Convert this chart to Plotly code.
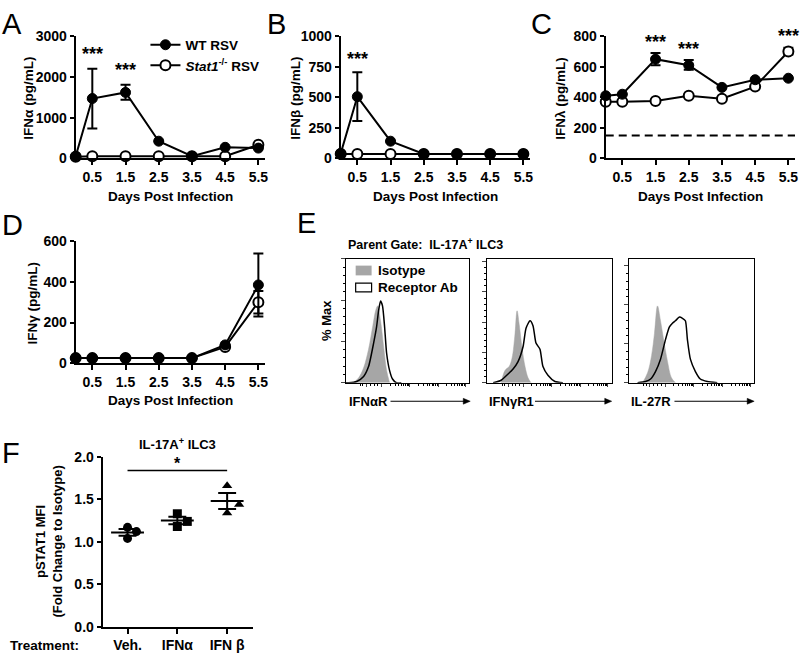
import math
import plotly.graph_objects as go

# ---------------- DATA ----------------
days = [0, 0.5, 1.5, 2.5, 3.5, 4.5, 5.5]
day_ticks = [0.5, 1.5, 2.5, 3.5, 4.5, 5.5]

ifna_wt = [50, 1470, 1620, 420, 50, 270, 250]
ifna_wt_up = [0, 730, 190, 0, 0, 0, 0]
ifna_wt_dn = [0, 740, 180, 0, 0, 0, 0]
ifna_ko = [40, 50, 50, 50, 50, 50, 330]

ifnb_wt = [40, 505, 140, 35, 35, 35, 35]
ifnb_wt_up = [0, 200, 0, 0, 0, 0, 0]
ifnb_wt_dn = [0, 200, 0, 0, 0, 0, 0]
ifnb_ko = [35, 35, 35, 35, 35, 35, 35]

ifnl_wt = [410, 420, 650, 610, 465, 515, 525]
ifnl_wt_up = [0, 0, 40, 35, 0, 0, 0]
ifnl_wt_dn = [0, 0, 40, 30, 0, 0, 0]
ifnl_ko = [370, 370, 375, 410, 390, 470, 700]
ifnl_ko_up = [0, 0, 0, 0, 0, 0, 25]
ifnl_ko_dn = [0, 0, 0, 0, 0, 0, 20]
ifnl_limit = 150

ifng_wt = [25, 25, 25, 25, 25, 90, 385]
ifng_wt_up = [0, 0, 0, 0, 0, 0, 155]
ifng_wt_dn = [0, 0, 0, 0, 0, 0, 155]
ifng_ko = [25, 25, 25, 25, 25, 80, 300]
ifng_ko_up = [0, 0, 0, 0, 0, 0, 55]
ifng_ko_dn = [0, 0, 0, 0, 0, 0, 55]

stars_a = [(0.5, 2570), (1.5, 2180)]
stars_b = [(0.5, 816)]
stars_c = [(1.5, 762), (2.5, 717), (5.5, 800)]

# Flow histograms (x = fraction of axis, y = % of max)
h1_iso_x = [0.065, 0.105, 0.145, 0.185, 0.218, 0.242, 0.258, 0.282, 0.306, 0.331, 0.355]
h1_iso_y = [0, 4, 12, 27, 45, 58, 62, 50, 30, 10, 0]
h1_rec_x = [0.0, 0.024, 0.089, 0.145, 0.185, 0.226, 0.25, 0.266, 0.282, 0.298, 0.315, 0.331, 0.355, 0.379, 0.411, 0.45]
h1_rec_y = [0, 0, 1, 5, 13, 32, 45, 58, 66, 62, 45, 24, 10, 3, 0, 0]

h2_iso_x = [0.112, 0.144, 0.176, 0.2, 0.224, 0.24, 0.256, 0.28, 0.304, 0.328, 0.352]
h2_iso_y = [0, 10, 13, 20, 40, 58, 48, 28, 13, 4, 0]
h2_rec_x = [0.048, 0.112, 0.168, 0.208, 0.248, 0.288, 0.312, 0.344, 0.368, 0.392, 0.424, 0.448, 0.488, 0.544, 0.608]
h2_rec_y = [0, 2, 7, 11, 17, 29, 44, 50, 46, 32, 27, 13, 6, 1, 0]

h3_iso_x = [0.111, 0.151, 0.183, 0.206, 0.23, 0.254, 0.278, 0.31, 0.341, 0.373]
h3_iso_y = [0, 8, 22, 40, 62, 50, 35, 17, 4, 0]
h3_rec_x = [0.071, 0.135, 0.175, 0.214, 0.254, 0.294, 0.325, 0.349, 0.373, 0.405, 0.429, 0.452, 0.468, 0.492, 0.532, 0.571, 0.627, 0.706]
h3_rec_y = [0, 1, 3, 9, 19, 35, 45, 48, 50, 53, 52, 50, 35, 19, 9, 3, 1, 0]

# Panel F
f_groups = ["Veh.", "IFNα", "IFN β"]
f_veh = [1.17, 1.04, 1.12]
f_ifna = [1.33, 1.18, 1.24]
f_ifnb = [1.66, 1.34, 1.44]
f_mean = [1.11, 1.25, 1.48]
f_sem = [0.04, 0.045, 0.095]

# ---------------- STYLE ----------------
FONT = "Liberation Sans"
W, H = 800, 662
BLACK = "black"
GRAY = "#a6a6a6"
TICK = 14


def dx(a, b):
    return [a / W, b / W]


def dy(top, bottom):
    return [1 - bottom / H, 1 - top / H]


def bfont(size=13, color=BLACK):
    return dict(family=FONT, size=size, color=color, weight="bold")


fig = go.Figure()

line_panels = [
    ("x", "y", ifna_wt, ifna_wt_up, ifna_wt_dn, ifna_ko, None, None, True),
    ("x2", "y2", ifnb_wt, ifnb_wt_up, ifnb_wt_dn, ifnb_ko, None, None, False),
    ("x3", "y3", ifnl_wt, ifnl_wt_up, ifnl_wt_dn, ifnl_ko, ifnl_ko_up, ifnl_ko_dn, False),
    ("x4", "y4", ifng_wt, ifng_wt_up, ifng_wt_dn, ifng_ko, ifng_ko_up, ifng_ko_dn, False),
]

for xa, ya, wt, wup, wdn, ko, kup, kdn, leg in line_panels:
    ko_err = None
    if kup is not None:
        ko_err = dict(type="data", array=kup, arrayminus=kdn, color=BLACK, thickness=2, width=5)
    fig.add_trace(go.Scatter(
        x=days, y=ko, mode="lines+markers", xaxis=xa, yaxis=ya,
        name="<i>Stat1</i><sup>-/-</sup> RSV", showlegend=leg, legendrank=2,
        line=dict(color=BLACK, width=2),
        marker=dict(symbol="circle", size=10, color="white", line=dict(color=BLACK, width=2)),
        error_y=ko_err, cliponaxis=False))
    fig.add_trace(go.Scatter(
        x=days, y=wt, mode="lines+markers", xaxis=xa, yaxis=ya,
        name="WT RSV", showlegend=leg, legendrank=1,
        line=dict(color=BLACK, width=2),
        marker=dict(symbol="circle", size=10, color=BLACK, line=dict(color=BLACK, width=1)),
        error_y=dict(type="data", array=wup, arrayminus=wdn, color=BLACK, thickness=2, width=5),
        cliponaxis=False))

# dashed detection limit in C
fig.add_trace(go.Scatter(x=[0, 5.7], y=[ifnl_limit, ifnl_limit], mode="lines", xaxis="x3", yaxis="y3",
                         line=dict(color=BLACK, width=2, dash="8px,5px"), showlegend=False, hoverinfo="skip"))

# Histograms
hist_sets = [("x5", "y5", h1_iso_x, h1_iso_y, h1_rec_x, h1_rec_y),
             ("x6", "y6", h2_iso_x, h2_iso_y, h2_rec_x, h2_rec_y),
             ("x7", "y7", h3_iso_x, h3_iso_y, h3_rec_x, h3_rec_y)]
for xa, ya, ix, iy, rx, ry in hist_sets:
    fig.add_trace(go.Scatter(x=ix, y=iy, xaxis=xa, yaxis=ya, mode="lines", fill="tozeroy",
                             fillcolor=GRAY, line=dict(color=GRAY, width=0.5, shape="spline"),
                             showlegend=False, hoverinfo="skip"))
    fig.add_trace(go.Scatter(x=rx, y=ry, xaxis=xa, yaxis=ya, mode="lines",
                             line=dict(color=BLACK, width=1.5, shape="spline", smoothing=0.6),
                             showlegend=False, hoverinfo="skip"))

# Panel F
f_sets = [(f_veh, "circle", [0, 0, 0.18]), (f_ifna, "square", [0, 0, 0.2]), (f_ifnb, "triangle-up", [0, 0, 0.24])]
for gi, (vals, sym, jit) in enumerate(f_sets):
    fig.add_trace(go.Scatter(x=[gi + j for j in jit], y=vals, mode="markers", xaxis="x8", yaxis="y8",
                             marker=dict(symbol=sym, size=9, color=BLACK), showlegend=False, cliponaxis=False))
for gi, (m, s) in enumerate(zip(f_mean, f_sem)):
    fig.add_trace(go.Scatter(x=[gi - 0.33, gi + 0.33], y=[m, m], mode="lines", xaxis="x8", yaxis="y8",
                             line=dict(color=BLACK, width=2), showlegend=False))
    fig.add_trace(go.Scatter(x=[gi - 0.18, gi + 0.18, None, gi, gi, None, gi - 0.18, gi + 0.18],
                             y=[m + s, m + s, None, m + s, m - s, None, m - s, m - s],
                             mode="lines", xaxis="x8", yaxis="y8",
                             line=dict(color=BLACK, width=2), showlegend=False))
fig.add_trace(go.Scatter(x=[0, 2], y=[1.84, 1.84], mode="lines", xaxis="x8", yaxis="y8",
                         line=dict(color=BLACK, width=1.5), showlegend=False))

# ---------------- AXES ----------------
common_x = dict(range=[0, 5.7], tickvals=day_ticks, ticktext=[str(d) for d in day_ticks],
                ticks="outside", ticklen=5, tickwidth=2, tickcolor=BLACK,
                showline=True, linewidth=2, linecolor=BLACK, showgrid=False, zeroline=False,
                tickfont=bfont(TICK), fixedrange=True)


def common_y(rng, tv):
    return dict(range=rng, tickvals=tv, ticks="outside", ticklen=4, tickwidth=2, tickcolor=BLACK,
                showline=True, linewidth=2, linecolor=BLACK, showgrid=False, zeroline=False,
                tickfont=bfont(TICK), fixedrange=True)


row1 = dy(29, 154)
layout = dict(
    width=W, height=H, margin=dict(l=0, r=0, t=0, b=0), autosize=False,
    paper_bgcolor="white", plot_bgcolor="rgba(0,0,0,0)",
    font=dict(family=FONT, color=BLACK),
    xaxis=dict(domain=dx(76, 266), anchor="y", **common_x),
    yaxis=dict(domain=row1, anchor="x", **common_y([0, 3000], [0, 1000, 2000, 3000])),
    xaxis2=dict(domain=dx(342, 532), anchor="y2", **common_x),
    yaxis2=dict(domain=row1, anchor="x2", **common_y([0, 1000], [0, 250, 500, 750, 1000])),
    xaxis3=dict(domain=dx(608, 798), anchor="y3", **common_x),
    yaxis3=dict(domain=row1, anchor="x3", **common_y([0, 800], [0, 200, 400, 600, 800])),
    xaxis4=dict(domain=dx(76, 266), anchor="y4", **common_x),
    yaxis4=dict(domain=dy(239, 364), anchor="x4", **common_y([0, 600], [0, 200, 400, 600])),
    showlegend=True,
    legend=dict(x=146 / W, y=1 - 22 / H, xanchor="left", yanchor="top", font=bfont(13.5),
                bgcolor="rgba(0,0,0,0)", tracegroupgap=0, itemwidth=30),
)

box_ticks = [[0, 33.3, 66.7, 100], [0, 24.4, 48.8, 73.2, 97.6], [0, 31.5, 63, 94.5]]
box_dom = [dx(347, 471), dx(489, 614), dx(631, 757)]
log_major = [0.17, 0.29, 0.52, 0.75, 0.97]
log_minor = []
for a, b in zip(log_major[1:-1], log_major[2:]):
    for k in range(2, 10):
        log_minor.append(a + (b - a) * math.log10(k))
log_minor += [0.2, 0.23, 0.26, 0.12, 0.14]
for i, (dom, tv) in enumerate(zip(box_dom, box_ticks)):
    n = i + 5
    minor_y = []
    step = tv[1] - tv[0]
    for k in range(len(tv)):
        for f in (0.2, 0.4, 0.6, 0.8):
            v = tv[k] + f * step
            if v < 100:
                minor_y.append(v)
    layout[f"xaxis{n}"] = dict(domain=dom, anchor=f"y{n}", range=[0, 1], showline=True, linewidth=1,
                               linecolor=BLACK, mirror=True, ticks="outside", ticklen=3, tickwidth=1,
                               tickvals=log_major, showticklabels=False, showgrid=False, zeroline=False,
                               minor=dict(tickvals=log_minor, ticklen=2, tickwidth=1, ticks="outside",
                                          tickcolor=BLACK),
                               fixedrange=True)
    layout[f"yaxis{n}"] = dict(domain=dy(257, 384), anchor=f"x{n}", range=[0, 100], showline=True,
                               linewidth=1, linecolor=BLACK, mirror=True, ticks="outside", ticklen=4,
                               tickwidth=1, tickvals=tv, showticklabels=False, showgrid=False,
                               zeroline=False,
                               minor=dict(tickvals=minor_y, ticklen=2, tickwidth=1, ticks="outside",
                                          tickcolor=BLACK),
                               fixedrange=True)

layout["xaxis8"] = dict(domain=dx(103, 254), anchor="y8", range=[-0.5, 2.52], tickvals=[0, 1, 2],
                        ticktext=f_groups, ticks="outside", ticklen=5, tickwidth=2, tickcolor=BLACK,
                        showline=True, linewidth=2, linecolor=BLACK, showgrid=False, zeroline=False,
                        tickfont=bfont(TICK), fixedrange=True)
layout["yaxis8"] = dict(domain=dy(460, 634), anchor="x8", **common_y([0, 2], [0, 0.5, 1, 1.5, 2]))
layout["yaxis8"]["tickformat"] = ".1f"

fig.update_layout(**layout)

# ---------------- ANNOTATIONS ----------------
ann = []


def txt(x, y, text, size=13, angle=0, xanchor="center", yanchor="middle", bold=True, xref="paper", yref="paper"):
    f = bfont(size) if bold else dict(family=FONT, size=size, color=BLACK)
    ann.append(dict(x=x if xref != "paper" else x / W, y=y if yref != "paper" else 1 - y / H,
                    xref=xref, yref=yref, text=text, showarrow=False, font=f, textangle=angle,
                    xanchor=xanchor, yanchor=yanchor))


# panel letters
for letter, px, py in [("A", 0, 16), ("B", 266, 16), ("C", 531, 16), ("D", 0, 222), ("E", 296, 220), ("F", 0, 456)]:
    txt(px, py, letter, size=29, xanchor="left", bold=False)

# axis titles
txt(29, 92, "IFNα (pg/mL)", angle=-90, size=13.5)
txt(297, 92, "IFNβ (pg/mL)", angle=-90, size=13.5)
txt(563, 92, "IFNλ (pg/mL)", angle=-90, size=13.5)
txt(33, 302, "IFNγ (pg/mL)", angle=-90, size=13.5)
for cx in (171, 437, 703):
    txt(cx, 193, "Days Post Infection", size=13.5)
txt(171, 402, "Days Post Infection", size=13.5)

# stars
for xs, xa, ya in [(stars_a, "x", "y"), (stars_b, "x2", "y2"), (stars_c, "x3", "y3")]:
    for sx, sy in xs:
        txt(sx, sy, "***", size=18, xref=xa, yref=ya)

# Panel E texts
txt(347, 242, "Parent Gate:  IL-17A<sup>+</sup> ILC3", size=12.5, xanchor="left")
txt(327, 320, "% Max", angle=-90)
for lx, lab in [(348, "IFNαR"), (489, "IFNγR1"), (631, "IL-27R")]:
    txt(lx, 403, lab, xanchor="left")
txt(377, 269, "Isotype", size=13.5, xanchor="left")
txt(377, 286, "Receptor Ab", size=13.5, xanchor="left")

# Panel F texts
txt(178, 447, "IL-17A<sup>+</sup> ILC3", size=13)
txt(49, 547, "pSTAT1 MFI<br>(Fold Change to Isotype)", angle=-90, size=13)
txt(8, 653, "Treatment:", xanchor="left", size=13.5)
txt(1, 1.92, "*", size=16, xref="x8", yref="y8")

fig.update_layout(annotations=ann)

# arrows under histograms
for x0, x1 in [(392, 472), (537, 614), (677, 757)]:
    yy = 1 - 403 / H
    fig.add_shape(type="line", xref="paper", yref="paper", x0=x0 / W, x1=(x1 - 3) / W, y0=yy, y1=yy,
                  line=dict(color=BLACK, width=1))
    fig.add_shape(type="path", xref="paper", yref="paper",
                  path=f"M {(x1 - 7) / W} {yy + 3 / H} L {x1 / W} {yy} L {(x1 - 7) / W} {yy - 3 / H} Z",
                  fillcolor=BLACK, line=dict(color=BLACK, width=0.5))

# legend squares for E
fig.add_shape(type="rect", xref="paper", yref="paper", x0=357 / W, x1=373 / W, y0=1 - 274 / H, y1=1 - 264 / H,
              fillcolor=GRAY, line=dict(width=0))
fig.add_shape(type="rect", xref="paper", yref="paper", x0=357 / W, x1=373 / W, y0=1 - 291 / H, y1=1 - 282 / H,
              fillcolor="white", line=dict(color=BLACK, width=1.2))

fig.write_html("out.html", config={"displayModeBar": False},
               post_script="document.body.style.margin='0px';document.body.style.overflow='hidden';")
